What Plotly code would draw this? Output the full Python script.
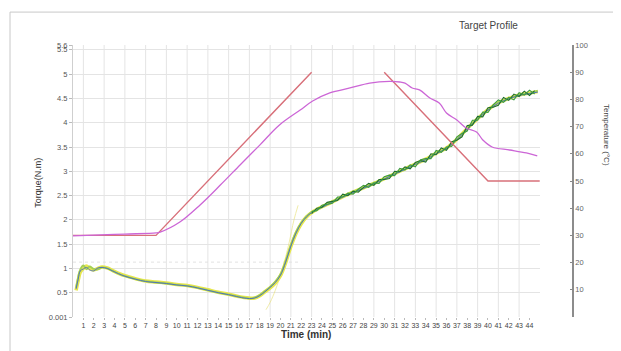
import plotly.graph_objects as go

# ---------------- data ----------------
x_ticks = list(range(1, 45))
y_tickvals = [0, 0.5, 1, 1.5, 2, 2.5, 3, 3.5, 4, 4.5, 5, 5.5, 5.6]
y_ticktext = ["0.001", "0.5", "1", "1.5", "2", "2.5", "3", "3.5", "4", "4.5", "5", "5.5", "5.6"]
temp_tickvals = [10, 20, 30, 40, 50, 60, 70, 80, 90, 100]
grid_minutes = list(range(1, 45, 2))

# target temperature profile (deg C)
target_t = [0, 8, 23, None, 30, 40, 45]
target_T = [30, 30, 90, None, 90, 50, 50]

# measured temperature (deg C)
temp_t = [0, 2, 5, 8, 8.4, 10.3, 12.25, 14.2, 16.1, 18.0, 19.9, 21.9, 23.1, 24.75, 26.7,
          28.6, 30.5, 31.5, 32.0, 32.7, 33.4, 34.4, 35.3, 36.0, 37.0, 37.9, 38.9, 39.5,
          40.4, 42.1, 43.7, 44.75]
temp_T = [29.8, 30.1, 30.5, 30.9, 31.2, 34.9, 41.2, 48.5, 55.9, 63.2, 70.6, 76.1, 79.4,
          82.4, 84.2, 86.0, 86.6, 86.4, 86.0, 84.2, 83.5, 80.5, 78.7, 75.0, 72.4, 69.5,
          68.0, 65.1, 62.5, 61.4, 60.3, 59.2]

# torque runs (N.m)
torque_t = [0.3, 0.5, 0.7, 1.0, 1.3, 1.6, 2.0, 2.4, 2.8, 3.3, 3.8, 4.4, 5.0, 6.0, 7.0, 8.0,
            9.0, 10.0, 11.0, 12.0, 13.0, 14.0, 15.0, 16.0, 16.5, 17.0, 17.5, 18.0, 18.5,
            19.0, 19.5, 20.0, 20.5, 21.0, 21.5, 22.0, 22.5, 23.0, 24.0, 25.0, 26.0, 27.0,
            28.0, 29.0, 30.0, 31.0, 32.0, 33.0, 34.0, 35.0, 36.0, 37.0, 38.0, 39.0, 40.0,
            41.0, 42.0, 43.0, 44.0, 44.8]
torque_yellow = [0.55, 0.75, 0.92, 1.0, 1.05, 1.0, 0.97, 1.0, 1.03, 1.01, 0.96, 0.9, 0.85,
                 0.79, 0.74, 0.72, 0.70, 0.67, 0.65, 0.61, 0.56, 0.51, 0.47, 0.42, 0.40,
                 0.39, 0.39, 0.44, 0.52, 0.60, 0.70, 0.85, 1.12, 1.45, 1.72, 1.92, 2.06,
                 2.15, 2.27, 2.37, 2.48, 2.57, 2.66, 2.75, 2.85, 2.95, 3.05, 3.15, 3.25,
                 3.37, 3.48, 3.66, 3.88, 4.08, 4.27, 4.41, 4.50, 4.57, 4.61, 4.64]
torque_lightgreen = [0.6, 0.82, 0.98, 1.06, 0.98, 1.04, 0.99, 0.98, 1.02, 1.0, 0.95, 0.89,
                     0.84, 0.78, 0.74, 0.71, 0.69, 0.66, 0.64, 0.60, 0.55, 0.50, 0.46, 0.42,
                     0.40, 0.38, 0.40, 0.45, 0.53, 0.62, 0.73, 0.88, 1.15, 1.48, 1.75, 1.94,
                     2.07, 2.16, 2.26, 2.38, 2.47, 2.58, 2.65, 2.76, 2.84, 2.96, 3.04, 3.16,
                     3.24, 3.38, 3.47, 3.67, 3.87, 4.09, 4.26, 4.42, 4.49, 4.58, 4.60, 4.66]
torque_blue = [0.58, 0.78, 0.95, 0.99, 1.02, 0.97, 0.95, 1.01, 1.02, 1.0, 0.95, 0.89, 0.84,
               0.78, 0.73, 0.71, 0.69, 0.66, 0.64, 0.60, 0.55, 0.50, 0.46, 0.41, 0.39,
               0.38, 0.39, 0.44, 0.52, 0.61, 0.71, 0.86, 1.13, 1.46, 1.73, 1.93, 2.06,
               2.15, 2.26, 2.36, 2.47, 2.56, 2.65, 2.74, 2.84, 2.94, 3.04, 3.14, 3.24,
               3.36, 3.47, 3.65, 3.87, 4.07, 4.26, 4.40, 4.49, 4.56, 4.60, 4.63]

# an early-rising run
early_t = [18.6, 19.0, 19.5, 20.2, 20.8, 21.3, 21.7]
early_v = [0.15, 0.30, 0.55, 1.00, 1.50, 2.00, 2.30]

# faint reference level
level_t = [0, 22]
level_v = [1.13, 1.13]

noisy_t = [23, 23.5, 24, 24.5, 25, 25.5, 26, 26.5, 27, 27.5, 28, 28.5, 29, 29.5, 30, 30.5,
           31, 31.5, 32, 32.5, 33, 33.5, 34, 34.5, 35, 35.5, 36, 36.5, 37, 37.5, 38, 38.5,
           39, 39.5, 40, 40.5, 41, 41.5, 42, 42.5, 43, 43.5, 44, 44.5]
torque_green = [2.17, 2.19, 2.30, 2.32, 2.34, 2.47, 2.47, 2.55, 2.53, 2.63, 2.71, 2.67,
                2.76, 2.75, 2.89, 2.92, 2.91, 3.06, 3.03, 3.13, 3.09, 3.24, 3.26, 3.26,
                3.43, 3.39, 3.50, 3.51, 3.71, 3.78, 3.83, 4.05, 4.05, 4.22, 4.21, 4.37,
                4.47, 4.42, 4.52, 4.47, 4.62, 4.57, 4.67, 4.59]
torque_darkgreen = [2.13, 2.24, 2.26, 2.36, 2.38, 2.40, 2.53, 2.50, 2.59, 2.57, 2.67, 2.75,
                    2.71, 2.83, 2.83, 2.85, 3.00, 2.99, 3.09, 3.05, 3.18, 3.22, 3.19, 3.36,
                    3.34, 3.48, 3.43, 3.61, 3.64, 3.71, 3.94, 3.95, 4.13, 4.12, 4.31, 4.32,
                    4.36, 4.52, 4.46, 4.59, 4.54, 4.65, 4.56, 4.66]

# ---------------- figure ----------------
fig = go.Figure()

fig.add_trace(go.Scatter(x=level_t, y=level_v, mode="lines",
                         line=dict(color="#e2e2e2", width=1, dash="dot")))
fig.add_trace(go.Scatter(x=target_t, y=target_T, mode="lines", yaxis="y2",
                         line=dict(color="#d8707a", width=1.4), connectgaps=False))
fig.add_trace(go.Scatter(x=temp_t, y=temp_T, mode="lines", yaxis="y2",
                         line=dict(color="#cc66d6", width=1.3, shape="spline")))

fig.add_trace(go.Scatter(x=early_t, y=early_v, mode="lines", opacity=0.6,
                         line=dict(color="#e8e070", width=1, shape="spline")))
fig.add_trace(go.Scatter(x=torque_t, y=torque_yellow, mode="lines",
                         line=dict(color="#e6e64e", width=3.5, shape="spline")))
fig.add_trace(go.Scatter(x=torque_t, y=torque_lightgreen, mode="lines",
                         line=dict(color="#a4cf55", width=1.8, shape="spline")))
fig.add_trace(go.Scatter(x=torque_t, y=torque_blue, mode="lines",
                         line=dict(color="#4f74b8", width=1, shape="spline")))
fig.add_trace(go.Scatter(x=noisy_t, y=torque_darkgreen, mode="lines",
                         line=dict(color="#1f6e30", width=1.1)))
fig.add_trace(go.Scatter(x=noisy_t, y=torque_green, mode="lines",
                         line=dict(color="#3c9a44", width=1.1)))

# vertical grid lines at odd minutes
shapes = []
for m in grid_minutes:
    shapes.append(dict(type="line", xref="x", yref="y domain", x0=m, x1=m, y0=0, y1=1,
                       line=dict(color="#e4e4e4", width=1), layer="below"))
# outer frame
shapes.append(dict(type="line", xref="paper", yref="paper", x0=-0.124, x1=1.08,
                   y0=1.121, y1=1.121, line=dict(color="#c8c8c8", width=1)))
shapes.append(dict(type="line", xref="paper", yref="paper", x0=-0.124, x1=-0.124,
                   y0=-0.13, y1=1.121, line=dict(color="#c8c8c8", width=1)))

font_family = "Arial, Liberation Sans, sans-serif"

# the page body adds an 8px margin, so the figure is 8px smaller and shifted
fig.update_layout(
    width=613, height=343,
    margin=dict(l=65, r=40, t=37, b=34),
    paper_bgcolor="white", plot_bgcolor="white",
    showlegend=False,
    font=dict(family=font_family, color="#555"),
    shapes=shapes,
    xaxis=dict(domain=[0, 0.919], range=[0, 45], tickvals=x_ticks,
               tickfont=dict(size=7, color="#444"), showgrid=False, zeroline=False,
               showline=False, ticks="outside", ticklen=2, tickcolor="#bbb"),
    yaxis=dict(range=[0, 5.6], tickvals=y_tickvals, ticktext=y_ticktext,
               tickfont=dict(size=7.5, color="#555"), showgrid=True, gridcolor="#e4e4e4",
               zeroline=False, showline=True, linecolor="#cfcfcf", linewidth=1,
               ticks="outside", ticklen=3, tickcolor="#bbb"),
    yaxis2=dict(range=[0, 100], tickvals=temp_tickvals, overlaying="y", anchor="free",
                position=0.984, side="right", tickfont=dict(size=7.5, color="#666"),
                showgrid=False, zeroline=False, showline=True, linecolor="#8c8c8c",
                linewidth=2, ticks="inside", ticklen=2, tickcolor="#888"),
    annotations=[
        dict(text="Torque(N.m)", xref="paper", yref="paper", x=-0.069, y=0.493,
             xanchor="center", yanchor="middle",
             textangle=-90, showarrow=False, font=dict(size=9, color="#333")),
        dict(text="<b>Time (min)</b>", xref="paper", yref="paper", x=0.459, y=-0.066,
             xanchor="center", yanchor="middle",
             showarrow=False, font=dict(size=10, color="#333")),
        dict(text="Target Profile", xref="paper", yref="paper", x=0.817, y=1.07,
             xanchor="center", yanchor="middle",
             showarrow=False, font=dict(size=10, color="#444")),
        dict(text="Temperature (°C)", xref="paper", yref="paper", x=1.051, y=0.669,
             xanchor="center", yanchor="middle",
             textangle=90, showarrow=False, font=dict(size=8, color="#444")),
    ],
)

fig.write_html("out.html")
